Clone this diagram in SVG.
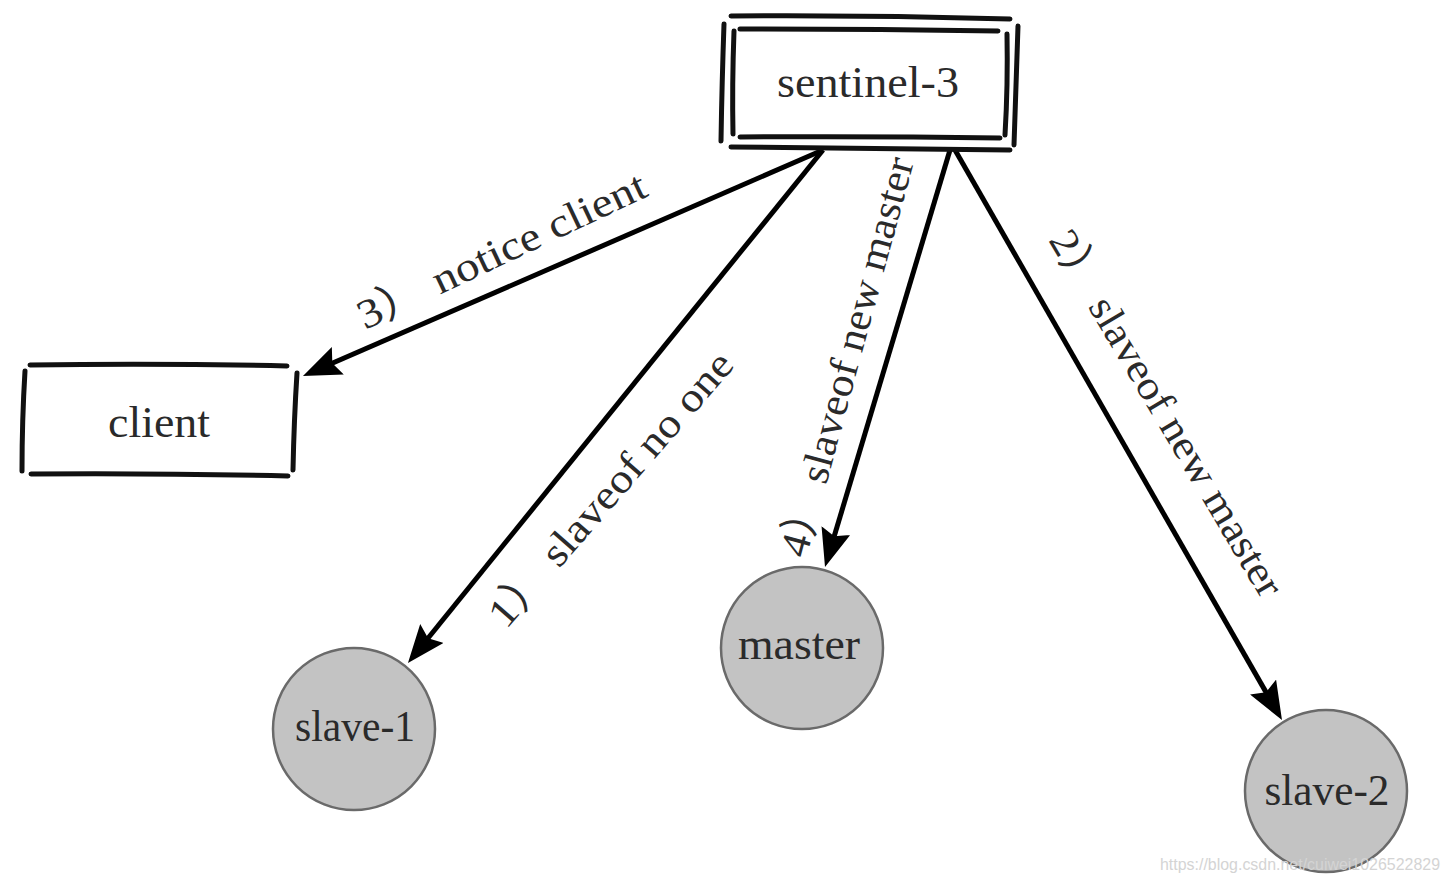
<svg xmlns="http://www.w3.org/2000/svg" width="1449" height="883" viewBox="0 0 1449 883">
<defs>
<style>
.sk{fill:none;stroke:#111;stroke-width:5;stroke-linecap:round}
.conn{fill:none;stroke:#000;stroke-width:5}
.nt{font-family:"Liberation Serif","Noto Sans CJK SC",serif;font-size:45px;fill:#2a2a2a;text-anchor:middle}
.lb{font-family:"Liberation Serif","Noto Sans CJK SC",serif;font-size:41px;fill:#2a2a2a}
.circ{fill:#c3c3c3;stroke:#6a6a6a;stroke-width:2.5}
</style>
<marker id="ah" markerUnits="userSpaceOnUse" viewBox="0 0 38 30" markerWidth="38" markerHeight="30" refX="30" refY="15" orient="auto">
<path d="M0,0 L38,15 L0,30 L6,15 z" fill="#000"/>
</marker>
</defs>
<rect width="1449" height="883" fill="#fff"/>
<g id="connectors">
<line class="conn" x1="823" y1="150" x2="310.3" y2="372.8" marker-end="url(#ah)"/>
<line class="conn" x1="823" y1="150" x2="413" y2="656.8" marker-end="url(#ah)"/>
<line class="conn" x1="950" y1="150" x2="827.3" y2="559.3" marker-end="url(#ah)"/>
<line class="conn" x1="955" y1="150" x2="1278" y2="713.1" marker-end="url(#ah)"/>
</g>
<g id="labels">
<text class="lb" transform="translate(365,330) rotate(-25.3)" textLength="315" lengthAdjust="spacingAndGlyphs">3） notice client</text>
<text class="lb" transform="translate(506,630) rotate(-49)" textLength="350" lengthAdjust="spacingAndGlyphs">1） slaveof no one</text>
<text class="lb" transform="translate(806,559) rotate(-74.8)" textLength="412" lengthAdjust="spacingAndGlyphs">4） slaveof new master</text>
<text class="lb" transform="translate(1048,240) rotate(59.3)" textLength="419" lengthAdjust="spacingAndGlyphs">2） slaveof new master</text>
</g>
<g id="sentinel-3">
<rect x="735" y="28" width="272" height="110" fill="#fff"/>
<path class="sk" d="M731,16 Q870,15 1010,19"/>
<path class="sk" d="M1018,26 Q1016,85 1014,145"/>
<path class="sk" d="M731,147 Q870,149 1010,150"/>
<path class="sk" d="M724,24 Q722,80 721,141"/>
<path class="sk" d="M740,29 Q870,29 998,31"/>
<path class="sk" d="M1007,34 Q1008,85 1005,135"/>
<path class="sk" d="M740,137 Q870,136 1000,138"/>
<path class="sk" d="M734,31 Q732,85 733,134"/>
<text class="nt" x="868" y="97" textLength="182" lengthAdjust="spacingAndGlyphs">sentinel-3</text>
</g>
<g id="client">
<rect x="25" y="366" width="270" height="108" fill="#fff"/>
<path class="sk" d="M30,365 Q160,363 287,366"/>
<path class="sk" d="M297,373 Q294,420 293,470"/>
<path class="sk" d="M31,474 Q160,473 288,476"/>
<path class="sk" d="M25,371 Q22,420 22,471"/>
<text class="nt" x="159" y="437" textLength="102" lengthAdjust="spacingAndGlyphs">client</text>
</g>
<g id="slave-1">
<circle class="circ" cx="354" cy="729" r="81"/>
<text class="nt" x="355" y="741" textLength="120" lengthAdjust="spacingAndGlyphs">slave-1</text>
</g>
<g id="master">
<circle class="circ" cx="802" cy="648" r="81"/>
<text class="nt" x="799" y="659" textLength="122" lengthAdjust="spacingAndGlyphs">master</text>
</g>
<g id="slave-2">
<circle class="circ" cx="1326" cy="791" r="81"/>
<text class="nt" x="1327" y="805" textLength="125" lengthAdjust="spacingAndGlyphs">slave-2</text>
</g>
<text x="1160" y="870" font-family="'Liberation Sans',Arial,sans-serif" font-size="17" fill="#d4d4d4" textLength="280" lengthAdjust="spacingAndGlyphs">https://blog.csdn.net/cuiwei1026522829</text>
</svg>
